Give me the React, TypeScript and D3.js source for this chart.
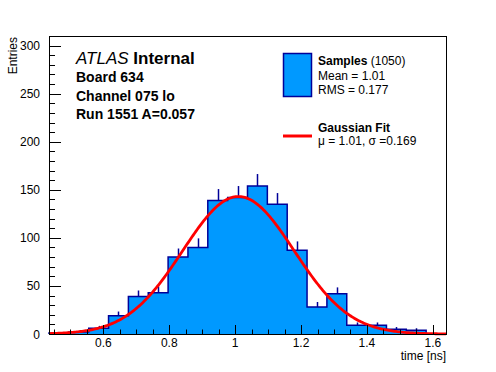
import React from 'react';
import * as d3 from 'd3';

// histogram: 20 bins between histLow and histHigh
const histLow = 0.435;
const histHigh = 1.64;
const binCounts = [1, 2, 6, 19, 39, 43, 80, 90, 139, 142, 154, 135, 87, 28, 42, 9, 9, 5, 4, 0];

// gaussian fit parameters
const fitAmp = 143;
const fitMean = 1.01;
const fitSigma = 0.169;

const headerLines = ['Board 634', 'Channel 075 lo', 'Run 1551 A=0.057'];
const nEntries = 1050;
const statMean = '1.01';
const statRms = '0.177';

const FONT = "'Liberation Sans', Arial, Helvetica, sans-serif";
const FILL = '#0099ff';
const EDGE = '#000099';

function App() {
  const width = 496;
  const height = 372;
  const frame = { left: 49, right: 446, top: 36, bottom: 334 };

  const x = d3.scaleLinear().domain([histLow, histHigh]).range([frame.left, frame.right]);
  const y = d3.scaleLinear().domain([0, 310]).range([frame.bottom, frame.top]);

  const binW = (histHigh - histLow) / binCounts.length;
  const bins = binCounts.map((v, i) => ({ x0: histLow + i * binW, x1: histLow + (i + 1) * binW, v }));

  // step outline
  const pts: [number, number][] = [[x(histLow), y(0)]];
  bins.forEach(b => {
    pts.push([x(b.x0), y(b.v)]);
    pts.push([x(b.x1), y(b.v)]);
  });
  pts.push([x(histHigh), y(0)]);
  const stepPath = d3.line()(pts) as string;

  const fitPts = d3.range(0, 301).map(i => {
    const t = histLow + (i / 300) * (histHigh - histLow);
    const g = fitAmp * Math.exp(-0.5 * Math.pow((t - fitMean) / fitSigma, 2));
    return [x(t), y(g)] as [number, number];
  });
  const fitPath = d3.line()(fitPts) as string;

  const yMajor = y.ticks(6);
  const yMinor = d3.range(0, 311, 10);
  const xMajor = x.ticks(6);
  const xMinor = d3.range(0.45, histHigh, 0.05);

  return (
    <svg width={width} height={height} style={{ position: 'absolute', left: 0, top: 0, background: '#fff' }}
      fontFamily={FONT}>
      <rect x={0} y={0} width={width} height={height} fill="#fff" />
      {/* histogram */}
      <path d={stepPath} fill={FILL} stroke="none" />
      {bins.filter(b => b.v > 0).map((b, i) => {
        const cx = Math.round(x((b.x0 + b.x1) / 2)) + 0.5;
        return <line key={i} x1={cx} x2={cx} y1={y(b.v)} y2={y(b.v + Math.sqrt(b.v))} stroke={EDGE} strokeWidth={1.5} />;
      })}
      <path d={stepPath} fill="none" stroke={EDGE} strokeWidth={1.5} />
      {/* fit */}
      <path d={fitPath} fill="none" stroke="#ff0000" strokeWidth={2.8} />

      {/* frame */}
      <rect x={frame.left + 0.5} y={frame.top + 0.5} width={frame.right - frame.left} height={frame.bottom - frame.top}
        fill="none" stroke="#000" strokeWidth={1} />

      {/* y axis */}
      {yMinor.map(v => (
        <line key={'ym' + v} x1={frame.left} x2={frame.left + 6} y1={Math.round(y(v)) + 0.5} y2={Math.round(y(v)) + 0.5} stroke="#000" />
      ))}
      {yMajor.map(v => (
        <g key={'yM' + v}>
          <line x1={frame.left} x2={frame.left + 12} y1={Math.round(y(v)) + 0.5} y2={Math.round(y(v)) + 0.5} stroke="#000" />
          <text x={40} y={y(v) + 4.5} fontSize={12} textAnchor="end">{v}</text>
        </g>
      ))}
      <text transform={`translate(17,${frame.top + 1}) rotate(-90)`} fontSize={12} textAnchor="end">Entries</text>

      {/* x axis */}
      {xMinor.map(v => (
        <line key={'xm' + v} x1={Math.round(x(v)) + 0.5} x2={Math.round(x(v)) + 0.5} y1={frame.bottom} y2={frame.bottom - 4.5} stroke="#000" />
      ))}
      {xMajor.map(v => (
        <g key={'xM' + v}>
          <line x1={Math.round(x(v)) + 0.5} x2={Math.round(x(v)) + 0.5} y1={frame.bottom} y2={frame.bottom - 9} stroke="#000" />
          <text x={x(v)} y={347} fontSize={12} textAnchor="middle">{d3.format('')(v)}</text>
        </g>
      ))}
      <text x={frame.right} y={360} fontSize={12} textAnchor="end">time [ns]</text>

      {/* header */}
      <text x={76} y={64} fontSize={17}>
        <tspan fontStyle="italic">ATLAS</tspan>
        <tspan fontWeight="bold"> Internal</tspan>
      </text>
      {headerLines.map((s, i) => (
        <text key={s} x={76} y={82 + i * 18.5} fontSize={14} fontWeight="bold">{s}</text>
      ))}

      {/* legend */}
      <rect x={283.5} y={53.5} width={28} height={43} fill={FILL} stroke={EDGE} strokeWidth={1.5} />
      <text x={318} y={65} fontSize={12}>
        <tspan fontWeight="bold">Samples</tspan>
        <tspan> ({nEntries})</tspan>
      </text>
      <text x={318} y={80} fontSize={12}>Mean = {statMean}</text>
      <text x={318} y={94} fontSize={12}>RMS = {statRms}</text>
      <line x1={283} x2={312} y1={136} y2={136} stroke="#ff0000" strokeWidth={3} />
      <text x={318} y={132} fontSize={12} fontWeight="bold">Gaussian Fit</text>
      <text x={318} y={145} fontSize={12}>{`\u03bc = ${fitMean}, \u03c3 =${fitSigma}`}</text>
    </svg>
  );
}

export default App;
